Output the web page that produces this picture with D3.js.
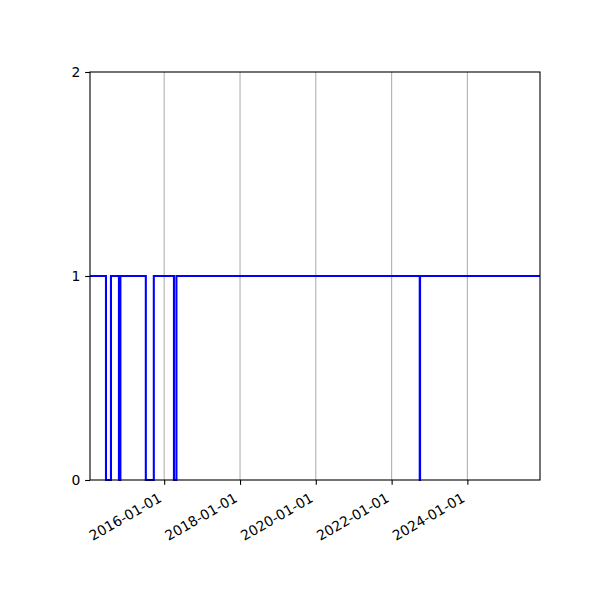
<!DOCTYPE html>
<html>
<head>
<meta charset="utf-8">
<script src="https://cdn.jsdelivr.net/npm/d3@7"></script>
<style>
  body { margin: 0; background: #fff; }
  text { font-family: "DejaVu Sans", sans-serif; }
</style>
</head>
<body>
<svg id="canvas"></svg>
<script>
// Step series: date where the value changes, and the value from there on
var changeDates = ['2014-01-16', '2014-06-19', '2014-08-06', '2014-10-22', '2014-11-05',
  '2015-07-08', '2015-09-23', '2016-04-04', '2016-04-28', '2022-09-29', '2022-10-02', '2025-12-01'];
var stepValues = [1, 0, 1, 0, 1, 0, 1, 0, 1, 0, 1, 1];

// Tick labels
var xTickDates = ['2016-01-01', '2018-01-01', '2020-01-01', '2022-01-01', '2024-01-01'];
var yTickValues = [0, 1, 2];

var margin = { top: 72, right: 60, bottom: 120, left: 90 };
var canvasWidth = 600;
var canvasHeight = 600;
var width = canvasWidth - margin.left - margin.right;
var height = canvasHeight - margin.top - margin.bottom;
var fontSize = 13.9;
var tickLen = 4.86;

var parse = d3.timeParse('%Y-%m-%d');
var data = changeDates.map(function(d, i) {
  return { date: parse(d), value: stepValues[i] };
});

var svg = d3.select('#canvas')
  .attr('width', canvasWidth)
  .attr('height', canvasHeight);

var g = svg.append('g')
  .attr('transform', 'translate(' + margin.left + ',' + margin.top + ')');

var x = d3.scaleTime()
  .domain(d3.extent(data, function(d) { return d.date; }))
  .range([0, width]);

var y = d3.scaleLinear()
  .domain([0, 2])
  .range([height, 0]);

// Vertical grid lines
g.append('g')
  .selectAll('line')
  .data(xTickDates.map(parse))
  .enter()
  .append('line')
  .attr('x1', function(d) { return x(d); })
  .attr('x2', function(d) { return x(d); })
  .attr('y1', 0)
  .attr('y2', height)
  .attr('stroke', '#b0b0b0')
  .attr('stroke-width', 1.1);

// Step line
var line = d3.line()
  .x(function(d) { return x(d.date); })
  .y(function(d) { return y(d.value); })
  .curve(d3.curveStepAfter);

g.append('path')
  .datum(data)
  .attr('d', line)
  .attr('fill', 'none')
  .attr('stroke', '#0000ff')
  .attr('stroke-width', 2.08);

// X axis
var xAxis = d3.axisBottom(x)
  .tickValues(xTickDates.map(parse))
  .tickFormat(d3.timeFormat('%Y-%m-%d'))
  .tickSize(tickLen)
  .tickSizeOuter(0);

var xAxisG = g.append('g')
  .attr('transform', 'translate(0,' + height + ')')
  .call(xAxis);

xAxisG.selectAll('text')
  .attr('font-size', fontSize)
  .attr('fill', '#000')
  .attr('text-anchor', 'end')
  .attr('y', 0)
  .attr('dy', 0)
  .attr('transform', 'translate(-2,' + (tickLen * 2 + 11) + ') rotate(-30)');

// Y axis
var yAxis = d3.axisLeft(y)
  .tickValues(yTickValues)
  .tickFormat(d3.format('d'))
  .tickSize(tickLen)
  .tickSizeOuter(0)
  .tickPadding(4.86);

var yAxisG = g.append('g').call(yAxis);
yAxisG.selectAll('text')
  .attr('font-size', fontSize)
  .attr('fill', '#000');

g.selectAll('.domain').remove();
g.selectAll('.tick line').attr('stroke', '#000').attr('stroke-width', 1.1);

// Frame
g.append('rect')
  .attr('x', 0)
  .attr('y', 0)
  .attr('width', width)
  .attr('height', height)
  .attr('fill', 'none')
  .attr('stroke', '#000')
  .attr('stroke-width', 1.1);
</script>
</body>
</html>
